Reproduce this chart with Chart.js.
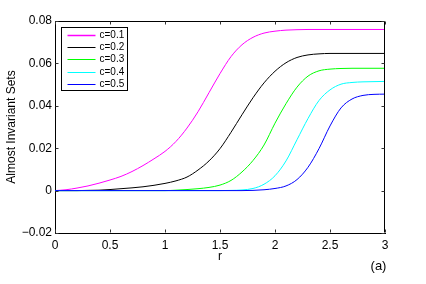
<!DOCTYPE html>
<html>
<head>
<meta charset="utf-8">
<script src="https://cdn.jsdelivr.net/npm/chart.js@4"></script>
<style>
  html, body { margin: 0; padding: 0; background: #fff; }
  #wrap { width: 426px; height: 284px; }
</style>
</head>
<body>
<div id="wrap"><canvas id="chart" width="426" height="284"></canvas></div>
<script>
// r values (x axis)
const r = [0, 0.1, 0.2, 0.3, 0.4, 0.5, 0.6, 0.7, 0.8, 0.9, 1.0, 1.1, 1.2, 1.3, 1.4, 1.5,
  1.6, 1.7, 1.8, 1.9, 2.0, 2.1, 2.2, 2.3, 2.4, 2.5, 2.6, 2.7, 2.8, 2.9, 3.0];

const c01 = [0, 0.0004, 0.0012, 0.0022, 0.0035, 0.0050, 0.0067, 0.0090, 0.0118, 0.0150, 0.0185,
  0.0232, 0.0295, 0.0372, 0.0462, 0.0552, 0.0632, 0.0688, 0.0723, 0.0743, 0.0752,
  0.0757, 0.0759, 0.0760, 0.0760, 0.0760, 0.0760, 0.0760, 0.0760, 0.0760, 0.0760];
const c02 = [0, 0, 0, 0.0001, 0.0002, 0.0005, 0.0009, 0.0013, 0.0018, 0.0025, 0.0034,
  0.0046, 0.0064, 0.0097, 0.0140, 0.0198, 0.0275, 0.0358, 0.0438, 0.0508, 0.0563,
  0.0603, 0.0628, 0.0640, 0.0645, 0.0647, 0.0647, 0.0647, 0.0647, 0.0647, 0.0647];
const c03 = [0, 0, 0, 0, 0, 0, 0, 0, 0, 0, 0,
  0.0002, 0.0005, 0.0009, 0.0015, 0.0026, 0.0048, 0.0088, 0.0142, 0.0215, 0.0318,
  0.0410, 0.0488, 0.0540, 0.0565, 0.0573, 0.0576, 0.0577, 0.0577, 0.0577, 0.0577];
const c04 = [0, 0, 0, 0, 0, 0, 0, 0, 0, 0, 0,
  0, 0, 0, 0, 0, 0.0001, 0.0003, 0.0010, 0.0030, 0.0070,
  0.0140, 0.0240, 0.0340, 0.0425, 0.0475, 0.0502, 0.0510, 0.0513, 0.0514, 0.0515];
const c05 = [0, 0, 0, 0, 0, 0, 0, 0, 0, 0, 0,
  0, 0, 0, 0, 0, 0, 0, 0.0001, 0.0004, 0.0010,
  0.0022, 0.0052, 0.0110, 0.0198, 0.0305, 0.0390, 0.0432, 0.0449, 0.0454, 0.0455];

const seriesNames = ['c=0.1', 'c=0.2', 'c=0.3', 'c=0.4', 'c=0.5'];
const seriesColors = ['#ff00ff', '#000000', '#00ff00', '#00ffff', '#0000ff'];

const xTicks = [0, 0.5, 1, 1.5, 2, 2.5, 3];
const xTickLabels = ['0', '0.5', '1', '1.5', '2', '2.5', '3'];
const yTicks = [-0.02, 0, 0.02, 0.04, 0.06, 0.08];
const yTickLabels = ['\u22120.02', '0', '0.02', '0.04', '0.06', '0.08'];

const FONT = "'Liberation Sans', Arial, Helvetica, sans-serif";

const series = [c01, c02, c03, c04, c05];
const datasets = series.map((vals, i) => ({
  label: seriesNames[i],
  data: vals.map((v, j) => ({ x: r[j], y: v })),
  borderColor: seriesColors[i],
  borderWidth: 1,
  pointRadius: 0,
  fill: false,
  cubicInterpolationMode: 'monotone',
  order: series.length - 1 - i
}));

// inside tick marks, box, legend and panel tag
const matlabAxes = {
  id: 'matlabAxes',
  afterDraw(chart) {
    const { ctx, chartArea, scales } = chart;
    const { left, right, top, bottom } = chartArea;
    const L = Math.round(left) + 0.5, R = Math.round(right) - 0.5;
    const T = Math.round(top) + 0.5, B = Math.round(bottom) - 0.5;
    ctx.save();
    ctx.strokeStyle = '#000';
    ctx.lineWidth = 1;
    ctx.beginPath();
    ctx.moveTo(L, T); ctx.lineTo(R, T); ctx.lineTo(R, B);
    ctx.stroke();

    ctx.strokeStyle = '#333';
    ctx.beginPath();
    xTicks.forEach(v => {
      const px = Math.round(scales.x.getPixelForValue(v)) + 0.5;
      ctx.moveTo(px, B); ctx.lineTo(px, B - 3);
      ctx.moveTo(px, T); ctx.lineTo(px, T + 3);
    });
    yTicks.forEach(v => {
      const py = Math.round(scales.y.getPixelForValue(v)) + 0.5;
      ctx.moveTo(L, py); ctx.lineTo(L + 3, py);
      ctx.moveTo(R, py); ctx.lineTo(R - 3, py);
    });
    ctx.stroke();

    // legend
    const bx = L + 6, by = T + 6, bw = 66, bh = 63;
    ctx.fillStyle = '#fff';
    ctx.fillRect(bx, by, bw, bh);
    ctx.strokeStyle = '#000';
    ctx.strokeRect(bx, by, bw, bh);
    ctx.font = '10px ' + FONT;
    ctx.textBaseline = 'middle';
    ctx.textAlign = 'left';
    chart.data.datasets.forEach((ds, i) => {
      const yy = Math.round(by + 7.5 + i * 12.2) + 0.5;
      ctx.strokeStyle = ds.borderColor;
      ctx.lineWidth = i === 0 ? 1.5 : 1;
      ctx.beginPath();
      ctx.moveTo(bx + 6, yy); ctx.lineTo(bx + 34, yy);
      ctx.stroke();
      ctx.fillStyle = '#000';
      ctx.fillText(ds.label, bx + 38, yy);
    });

    ctx.font = '13px ' + FONT;
    ctx.fillStyle = '#000';
    ctx.textAlign = 'center';
    ctx.fillText('(a)', 378.5, 266);
    ctx.restore();
  }
};

new Chart(document.getElementById('chart'), {
  type: 'line',
  data: { datasets },
  options: {
    responsive: false,
    animation: false,
    devicePixelRatio: 1,
    layout: { padding: { top: 21, right: 41, left: 0, bottom: 0 } },
    plugins: { legend: { display: false }, tooltip: { enabled: false } },
    scales: {
      x: {
        type: 'linear',
        min: 0,
        max: 3,
        afterFit: s => { s.height = 51; },
        afterBuildTicks: s => { s.ticks = xTicks.map(v => ({ value: v })); },
        grid: { display: false, drawTicks: false },
        border: { display: true, color: '#000', width: 1 },
        ticks: {
          padding: 5,
          color: '#000',
          font: { family: FONT, size: 12 },
          maxRotation: 0,
          callback: v => xTickLabels[xTicks.indexOf(v)]
        },
        title: {
          display: true,
          text: 'r',
          color: '#000',
          font: { family: FONT, size: 12 },
          padding: { top: 0, bottom: 20 }
        }
      },
      y: {
        type: 'linear',
        min: -0.02,
        max: 0.08,
        afterFit: s => { s.width = 55; },
        afterBuildTicks: s => { s.ticks = yTicks.map(v => ({ value: v })); },
        grid: { display: false, drawTicks: false },
        border: { display: true, color: '#000', width: 1 },
        ticks: {
          padding: 3,
          color: '#000',
          font: { family: FONT, size: 12 },
          callback: v => yTickLabels[yTicks.findIndex(t => Math.abs(t - v) < 1e-9)]
        },
        title: {
          display: true,
          text: 'Almost Invariant Sets',
          color: '#000',
          font: { family: FONT, size: 12 },
          padding: { top: 4.5, bottom: 0 }
        }
      }
    }
  },
  plugins: [matlabAxes]
});
</script>
</body>
</html>
